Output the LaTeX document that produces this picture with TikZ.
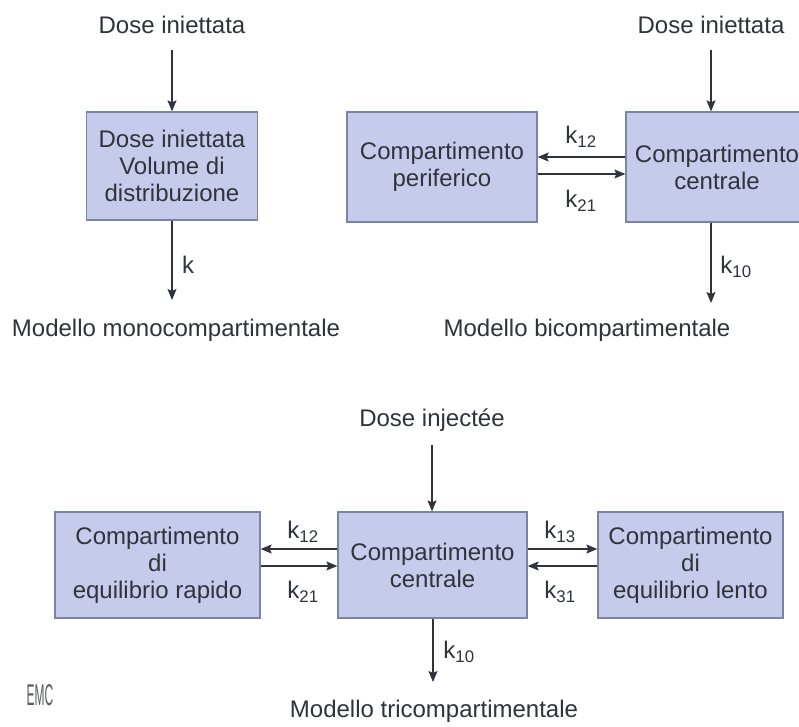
\documentclass[tikz,border=0pt]{standalone}
\usepackage{fontspec}
\setmainfont{Liberation Sans}
\usepackage{tikz}
\usetikzlibrary{arrows.meta}
\definecolor{compfill}{RGB}{198,203,236}
\definecolor{compdraw}{RGB}{122,131,168}
\definecolor{ink}{RGB}{48,50,60}

\begin{document}
\begin{tikzpicture}[x=1pt,y=-1pt]
\tikzstyle{every node}+=[inner sep=0pt, text=ink, font=\fontsize{24}{27}\selectfont]
\tikzstyle{comp}=[draw=compdraw, fill=compfill, line width=1.3pt, align=center]
\tikzstyle{flow}=[draw=ink, line width=1.2pt, -{Stealth[length=11pt,width=9pt,inset=2pt]}]
\useasboundingbox (0,0) rectangle (799,726);
\fill[white] (0,0) rectangle (799,726);

\node[anchor=base] (dosemono) at (172,33) {Dose iniettata};
\node[comp, minimum width=171pt, minimum height=108pt] (mono) at (172,166) {Dose iniettata\\Volume di\\distribuzione};
\coordinate (endmono) at (172,300);
\draw[flow, shorten <=17pt] (dosemono.south) -- (mono.north);
\draw[flow] (mono.south) -- (endmono);
\node[anchor=west] (kmono) at (182,265) {k};
\node[anchor=base] (modmono) at (176,336) {Modello monocompartimentale};

\node[anchor=base] (dosebi) at (711,33) {Dose iniettata};
\node[comp, minimum width=190pt, minimum height=110pt] (peri) at (442,167) {Compartimento\\periferico};
\node[comp, minimum width=182pt, minimum height=110pt] (cenbi) at (717,167) {Compartimento\\centrale};
\coordinate (endbi) at (711,303);
\draw[flow, shorten <=17pt] (dosebi.south) -- (dosebi.south |- cenbi.north);
\draw[flow] (cenbi.west |- 0,157) -- (peri.east |- 0,157);
\draw[flow] (peri.east |- 0,174) -- (cenbi.west |- 0,174);
\draw[flow] (endbi |- cenbi.south) -- (endbi);
\node (kbiA) at (581,137) {k\textsubscript{12}};
\node (kbiB) at (581,201) {k\textsubscript{21}};
\node (kbiC) at (736,267) {k\textsubscript{10}};
\node[anchor=base] (modbi) at (587,336) {Modello bicompartimentale};

\node[anchor=base] (dosetri) at (432,426) {Dose injectée};
\node[comp, minimum width=205pt, minimum height=106pt] (rapido) at (157.5,565) {Compartimento\\di\\equilibrio rapido};
\node[comp, minimum width=189pt, minimum height=106pt] (centri) at (432.5,565) {Compartimento\\centrale};
\node[comp, minimum width=185pt, minimum height=106pt] (lento) at (690.5,565) {Compartimento\\di\\equilibrio lento};
\coordinate (endtri) at (433,682);
\draw[flow, shorten <=14pt] (dosetri.south) -- (dosetri.south |- centri.north);
\draw[flow] (centri.west |- 0,549) -- (rapido.east |- 0,549);
\draw[flow] (rapido.east |- 0,566) -- (centri.west |- 0,566);
\draw[flow] (centri.east |- 0,549) -- (lento.west |- 0,549);
\draw[flow] (lento.west |- 0,566) -- (centri.east |- 0,566);
\draw[flow] (endtri |- centri.south) -- (endtri);
\node (ktriA) at (303,532) {k\textsubscript{12}};
\node (ktriB) at (303,592) {k\textsubscript{21}};
\node (ktriC) at (560,532) {k\textsubscript{13}};
\node (ktriD) at (560,592) {k\textsubscript{31}};
\node (ktriE) at (459,652) {k\textsubscript{10}};
\node[anchor=base] (modtri) at (434,717) {Modello tricompartimentale};

\node[font=\fontsize{30}{30}\selectfont, xscale=0.4, text=ink!80] (emc) at (40,695) {EMC};
\end{tikzpicture}
\end{document}
